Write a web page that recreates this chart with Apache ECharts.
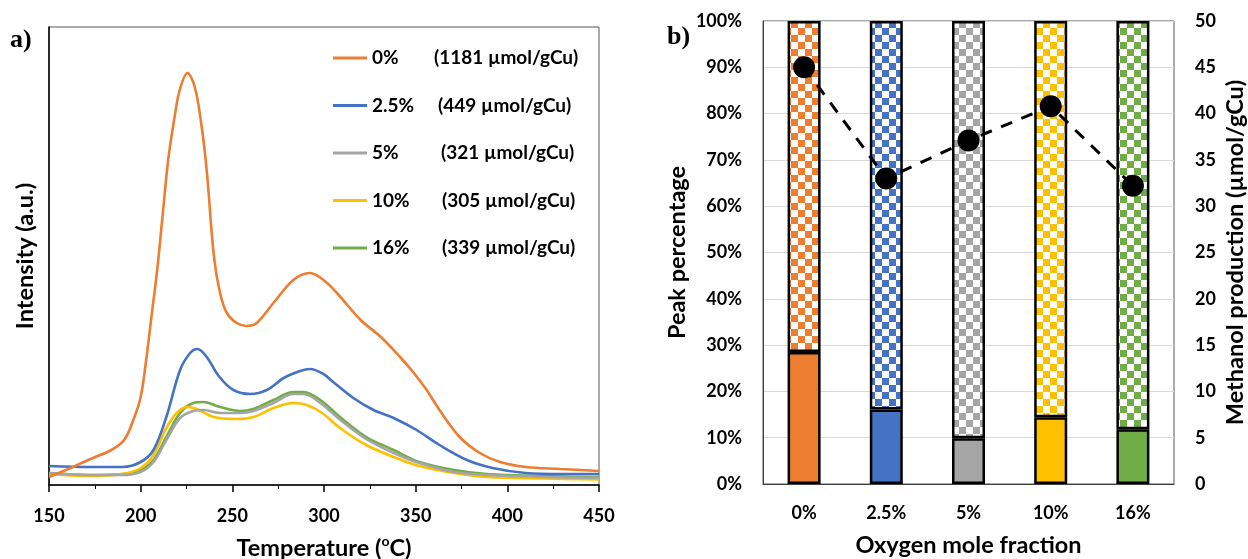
<!DOCTYPE html>
<html>
<head>
<meta charset="utf-8">
<script src="https://cdn.jsdelivr.net/npm/echarts@6/dist/echarts.min.js"></script>
<style>
html,body{margin:0;padding:0;background:#fff;}
#chart{width:1248px;height:559px;}
</style>
</head>
<body>
<div id="chart"></div>
<script>
// ---------- Panel a) TPD curves ----------
const seriesNames = ['0%', '2.5%', '5%', '10%', '16%'];
const productionLabels = ['(1181 µmol/gCu)', '(449 µmol/gCu)', '(321 µmol/gCu)', '(305 µmol/gCu)', '(339 µmol/gCu)'];

const temp0 = [150,163,174,184,191,196,200,203,206,209,212,215,218.5,221.3,225.5,229.5,233,236,240,243.3,247,252.4,257.8,263.3,272.4,283.3,292.4,301,308,320,331,341.5,349,356,363,374,385,396,410,429,450];
const int0  = [8,18,27,35,45,65,88,125,170,215,270,325,368,395,412,398,362,315,228,192,172,162,159,162,182,205,212,203,190,165,148,128,112,95,75,48,32,23,18,16,14];

const temp25 = [150,172,190,200,207,214,221.5,227,231,236,243,250.6,259.7,268.8,278,287,292.4,299.7,305,316,327,338,350.5,363,378,392,410,430,450];
const int25  = [19,18,18,23,35,68,115,132,136,128,108,95,91,95,107,114,116,111,103,87,75,67,55,40,25,17,12,11,11];

const temp5 = [150,172,190,200,207,214,221.5,228.8,234.3,243.3,254.2,261.5,272.4,283.3,288.8,298,309,323,338,352,371,389,420,450];
const int5  = [12,10,10,13,23,45,67,74,75,72,72,74,82,91,91,82,65,46,32,22,13,10,8,7];

const temp10 = [150,172,190,200,207,214,219.7,225.2,230.6,239.7,252.4,261.5,272.4,283.3,290.6,299,308.7,323,338,352,371,389,420,450];
const int10  = [11,9,11,17,30,57,72,78,76,68,66,68,77,82,80,72,57,40,28,19,12,8,6.5,5.5];

const temp16 = [150,172,190,200,207,214,221.5,228.8,234.3,243.3,254.2,261.5,272.4,283.3,288.8,298,308.7,323,338,352,371,389,420,450];
const int16  = [12,10,11,15,25,48,72,82,83,78,74,76,85,93,93,85,68,48,35,23,15,11,9,8];

// ---------- Panel b) bars + methanol ----------
const categories = ['0%', '2.5%', '5%', '10%', '16%'];
const lowPeak  = [28.5, 16.1, 9.9, 14.4, 11.8];
const highPeak = lowPeak.map(v => 100 - v);
const methanol = [45.0, 33.0, 37.1, 40.8, 32.2];

const colors = ['#ED7D31', '#4472C4', '#A5A5A5', '#FFC000', '#70AD47'];

function checker(color) {
  const c = document.createElement('canvas');
  const s = 7;
  c.width = 2 * s; c.height = 2 * s;
  const g = c.getContext('2d');
  g.fillStyle = '#ffffff';
  g.fillRect(0, 0, 2 * s, 2 * s);
  g.fillStyle = color;
  g.fillRect(0, 0, s, s);
  g.fillRect(s, s, s, s);
  return c;
}

function pairs(t, v) { return t.map((x, i) => [x, v[i]]); }

const FONT = 'Lato';
const TICK = 18;
const TITLE = 23.5;
const LEG = 19;
const legendWidths = [62, 66, 69, 70, 70];

const tempSets = [[temp0, int0], [temp25, int25], [temp5, int5], [temp10, int10], [temp16, int16]];

const lineSeries = tempSets.map((ds, i) => ({
  name: seriesNames[i],
  type: 'line',
  xAxisIndex: 0,
  yAxisIndex: 0,
  data: pairs(ds[0], ds[1]),
  smooth: 0.35,
  showSymbol: false,
  symbol: 'none',
  lineStyle: { color: colors[i], width: 2.6 },
  itemStyle: { color: colors[i] },
  z: 10 - i
}));

const richLegend = {};
legendWidths.forEach((w, i) => {
  richLegend['a' + i] = { width: w, fontFamily: FONT, fontWeight: 'bold', fontSize: LEG, color: '#000' };
});
richLegend.b = { fontFamily: FONT, fontWeight: 'bold', fontSize: LEG, color: '#000' };

const titleStyle = { fontFamily: FONT, fontWeight: 'bold', fontSize: TITLE, color: '#000' };
const tickStyle = { fontFamily: FONT, fontWeight: 'bold', fontSize: TICK, color: '#000' };

const option = {
  animation: false,
  backgroundColor: '#fff',
  grid: [
    { left: 49, right: 649, top: 27, bottom: 74, containLabel: false, outerBoundsMode: 'none', show: true, borderColor: '#595959', borderWidth: 1, backgroundColor: 'transparent' },
    { left: 763, right: 74, top: 21, bottom: 75, containLabel: false, outerBoundsMode: 'none', show: true, borderColor: '#595959', borderWidth: 1, backgroundColor: 'transparent' }
  ],
  legend: {
    data: seriesNames,
    orient: 'vertical',
    left: 333,
    top: 47,
    padding: 0,
    itemWidth: 34,
    itemHeight: 3,
    icon: 'rect',
    itemGap: 25.5,
    formatter: function (name) {
      const i = seriesNames.indexOf(name);
      return '{a' + i + '|' + name + '}{b|' + productionLabels[i] + '}';
    },
    textStyle: { fontFamily: FONT, fontWeight: 'bold', fontSize: LEG, color: '#000', lineHeight: 22, rich: richLegend }
  },
  xAxis: [
    {
      type: 'value', gridIndex: 0, min: 150, max: 450, interval: 50,
      name: 'Temperature ({s|o}C)',
      nameLocation: 'middle', nameGap: 49,
      nameTextStyle: Object.assign({}, titleStyle, {
        lineHeight: 28,
        rich: { s: { fontFamily: FONT, fontWeight: 'bold', fontSize: 14, verticalAlign: 'top', lineHeight: 28, padding: [0, 0, 12, 0], color: '#000' } }
      }),
      axisLine: { show: true, lineStyle: { color: '#000', width: 1.5 } },
      axisTick: { show: true, length: 7, lineStyle: { color: '#000', width: 1.5 } },
      minorTick: { show: true, splitNumber: 2, length: 4, lineStyle: { color: '#000', width: 1 } },
      axisLabel: Object.assign({ margin: 22 }, tickStyle),
      splitLine: { show: false }
    },
    {
      type: 'category', gridIndex: 1, data: categories,
      name: 'Oxygen mole fraction',
      nameLocation: 'middle', nameGap: 49,
      nameTextStyle: titleStyle,
      axisLine: { show: true, lineStyle: { color: '#404040', width: 1 } },
      axisTick: { show: false },
      axisLabel: Object.assign({ margin: 20 }, tickStyle)
    }
  ],
  yAxis: [
    {
      type: 'value', gridIndex: 0, min: 0, max: 458,
      name: 'Intensity (a.u.)',
      nameLocation: 'middle', nameRotate: 90, nameGap: 12,
      nameTextStyle: titleStyle,
      axisLine: { show: true, lineStyle: { color: '#000', width: 1.5 } },
      axisTick: { show: false },
      axisLabel: { show: false },
      splitLine: { show: false }
    },
    {
      type: 'value', gridIndex: 1, min: 0, max: 100, interval: 10, position: 'left',
      name: 'Peak percentage',
      nameLocation: 'middle', nameRotate: 90, nameGap: 74,
      nameTextStyle: titleStyle,
      axisLine: { show: true, lineStyle: { color: '#404040', width: 1 } },
      axisTick: { show: false },
      axisLabel: Object.assign({ margin: 21, formatter: '{value}%' }, tickStyle),
      splitLine: { show: true, lineStyle: { color: '#d9d9d9', width: 1 } }
    },
    {
      type: 'value', gridIndex: 1, min: 0, max: 50, interval: 5, position: 'right',
      name: 'Methanol production (µmol/gCu)',
      nameLocation: 'middle', nameRotate: 90, nameGap: 49,
      nameTextStyle: titleStyle,
      axisLine: { show: false },
      axisTick: { show: false },
      axisLabel: Object.assign({ margin: 21 }, tickStyle),
      splitLine: { show: false }
    }
  ],
  graphic: [
    { type: 'text', left: 10, top: 27, style: { text: 'a)', font: 'bold 26px "Liberation Serif"', fill: '#000' } },
    { type: 'text', left: 667, top: 24, style: { text: 'b)', font: 'bold 26px "Liberation Serif"', fill: '#000' } }
  ],
  series: lineSeries.concat([
    {
      name: 'low', type: 'bar', xAxisIndex: 1, yAxisIndex: 1, stack: 'peaks', barWidth: 33,
      data: lowPeak.map((v, i) => ({ value: v, itemStyle: { color: colors[i], borderColor: '#000', borderWidth: 2.5 } })),
      z: 4
    },
    {
      name: 'high', type: 'bar', xAxisIndex: 1, yAxisIndex: 1, stack: 'peaks', barWidth: 33,
      data: highPeak.map((v, i) => ({ value: v, itemStyle: { color: { image: checker(colors[i]), repeat: 'repeat' }, borderColor: '#000', borderWidth: 2.5 } })),
      z: 3
    },
    {
      name: 'methanol', type: 'line', xAxisIndex: 1, yAxisIndex: 2,
      data: methanol,
      symbol: 'circle', symbolSize: 22,
      itemStyle: { color: '#000' },
      lineStyle: { color: '#000', width: 3, type: [12, 10] },
      z: 6
    }
  ])
};

const chart = echarts.init(document.getElementById('chart'), null, { renderer: 'canvas' });
chart.setOption(option);
</script>
</body>
</html>
